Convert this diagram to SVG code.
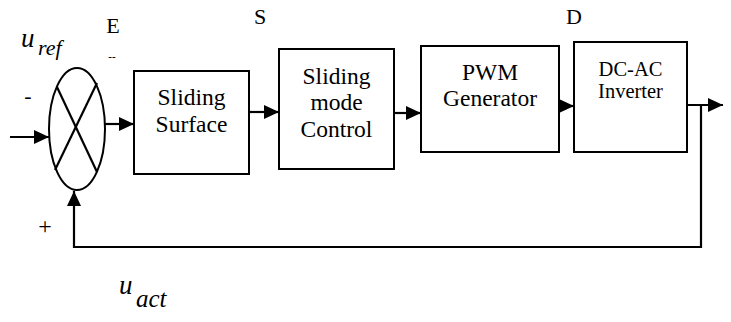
<svg xmlns="http://www.w3.org/2000/svg" width="731" height="322" viewBox="0 0 731 322">
  <style>
    .blk { fill: #fff; stroke: #000; stroke-width: 2; }
    .wire { fill: none; stroke: #000; stroke-width: 2.2; }
    text { font-family: "Liberation Serif", "Times New Roman", serif; fill: #000; }
    .lbl { text-anchor: middle; }
    .sig { font-style: italic; }
    .box { font-size: 23.5px; }
    .inv { font-size: 20.5px; }
  </style>
  <defs>
    <marker id="arrow" markerUnits="userSpaceOnUse" markerWidth="16" markerHeight="14" refX="15" refY="7" orient="auto">
      <path d="M0,0 L15,7 L0,14 z" fill="#000"/>
    </marker>
  </defs>

  <rect width="731" height="322" fill="#fff"/>

  <!-- signal labels -->
  <g id="u-ref">
    <text class="sig" x="21" y="47" font-size="27">u</text>
    <text class="sig" x="38" y="55" font-size="22">ref</text>
  </g>
  <g id="u-act">
    <text class="sig" x="119" y="294" font-size="27">u</text>
    <text class="sig" x="136" y="307" font-size="25">act</text>
  </g>
  <text class="lbl" x="113" y="33" font-size="22">E</text>
  <text class="lbl" x="112" y="60" font-size="11" font-weight="bold">--</text>
  <text class="lbl" x="260" y="24" font-size="22">S</text>
  <text class="lbl" x="574" y="24" font-size="22">D</text>
  <text class="lbl" x="28" y="103" font-size="22">-</text>
  <text class="lbl" x="45" y="234" font-size="24">+</text>

  <!-- connectors -->
  <g id="connectors">
    <line class="wire" x1="10" y1="137" x2="49" y2="137" marker-end="url(#arrow)"/>
    <line class="wire" x1="105" y1="124" x2="134" y2="124" marker-end="url(#arrow)"/>
    <line class="wire" x1="249" y1="112" x2="279" y2="112" marker-end="url(#arrow)"/>
    <line class="wire" x1="394" y1="113" x2="421" y2="113" marker-end="url(#arrow)"/>
    <line class="wire" x1="559" y1="106" x2="574" y2="106" marker-end="url(#arrow)"/>
    <line class="wire" x1="687" y1="105" x2="723" y2="105" marker-end="url(#arrow)"/>
    <polyline class="wire" points="701,105 701,247 74,247 74,191" marker-end="url(#arrow)"/>
  </g>

  <!-- summing junction -->
  <g id="sum">
    <ellipse class="blk" cx="77" cy="129" rx="28" ry="61"/>
    <line class="wire" x1="57" y1="87" x2="97" y2="172"/>
    <line class="wire" x1="97" y1="83" x2="55" y2="170"/>
  </g>

  <g id="sliding-surface">
    <rect class="blk" x="134" y="71" width="115" height="103"/>
    <text class="lbl box" x="191.5" y="105">Sliding</text>
    <text class="lbl box" x="191.5" y="132">Surface</text>
  </g>

  <g id="smc">
    <rect class="blk" x="279" y="49" width="115" height="120"/>
    <text class="lbl box" x="336.5" y="84">Sliding</text>
    <text class="lbl box" x="336.5" y="110">mode</text>
    <text class="lbl box" x="336.5" y="137">Control</text>
  </g>

  <g id="pwm">
    <rect class="blk" x="421" y="46" width="138" height="106"/>
    <text class="lbl box" x="490" y="80">PWM</text>
    <text class="lbl box" x="490" y="106">Generator</text>
  </g>

  <g id="inverter">
    <rect class="blk" x="574" y="42" width="113" height="110"/>
    <text class="lbl inv" x="630.5" y="76">DC-AC</text>
    <text class="lbl inv" x="630.5" y="98">Inverter</text>
  </g>
</svg>
